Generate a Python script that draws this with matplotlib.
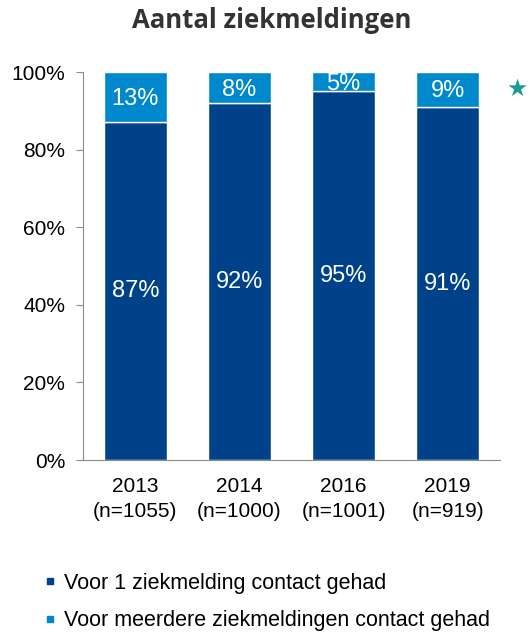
import matplotlib
matplotlib.use("Agg")
import matplotlib.pyplot as plt
from matplotlib.lines import Line2D

jaren = ["2013\n(n=1055)", "2014\n(n=1000)", "2016\n(n=1001)", "2019\n(n=919)"]
een_melding = [87, 92, 95, 91]
meerdere = [13, 8, 5, 9]
reeksen = ["Voor 1 ziekmelding contact gehad", "Voor meerdere ziekmeldingen contact gehad"]

DONKER = "#00428A"
LICHT = "#0088CC"
GRIJS = "#8C8C8C"

plt.rcParams["font.family"] = ["Liberation Sans", "DejaVu Sans"]

fig = plt.figure(figsize=(5.3, 6.32), dpi=100)
ax = fig.add_axes([0.157, 0.272, 0.786, 0.614])

x = range(len(jaren))
b1 = ax.bar(x, een_melding, width=0.6, color=DONKER, edgecolor="white", linewidth=1)
b2 = ax.bar(x, meerdere, bottom=een_melding, width=0.6, color=LICHT, edgecolor="white", linewidth=1)

for i in x:
    ax.text(i, een_melding[i] / 2, f"{een_melding[i]}%", ha="center", va="center",
            color="white", fontsize=17)
    ax.text(i, een_melding[i] + meerdere[i] / 2 - 0.5, f"{meerdere[i]}%", ha="center", va="center",
            color="white", fontsize=17)

ax.set_xlim(-0.5, 3.5)
ax.set_ylim(0, 100)
ax.set_yticks([0, 20, 40, 60, 80, 100])
ax.set_yticklabels([f"{v}%" for v in [0, 20, 40, 60, 80, 100]])
ax.set_xticks(list(x))
ax.set_xticklabels(jaren)

for s in ["top", "right"]:
    ax.spines[s].set_visible(False)
ax.spines["left"].set_color(GRIJS)
ax.spines["bottom"].set_color(GRIJS)
ax.tick_params(axis="y", length=5, color=GRIJS, pad=8, labelsize=15)
ax.tick_params(axis="x", length=0, pad=12, labelsize=15)
for lbl in ax.get_xticklabels():
    lbl.set_linespacing(1.4)

fig.text(0.513, 0.968, "Aantal ziekmeldingen", ha="center", va="center",
         fontsize=18.5, fontweight="bold", color="#333333", family="Open Sans")

fig.text(0.976, 0.859, "★", ha="center", va="center", fontsize=17,
         color="#1A9A96", family="DejaVu Sans")

handles = [Line2D([], [], marker="s", linestyle="", color=DONKER, markersize=5),
           Line2D([], [], marker="s", linestyle="", color=LICHT, markersize=5)]
fig.legend(handles, reeksen, loc="upper left", bbox_to_anchor=(0.065, 0.107),
           frameon=False, fontsize=15.5, handlelength=0.6, handletextpad=0.35,
           labelspacing=0.75, borderaxespad=0)

fig.savefig("out.png", dpi=100)
